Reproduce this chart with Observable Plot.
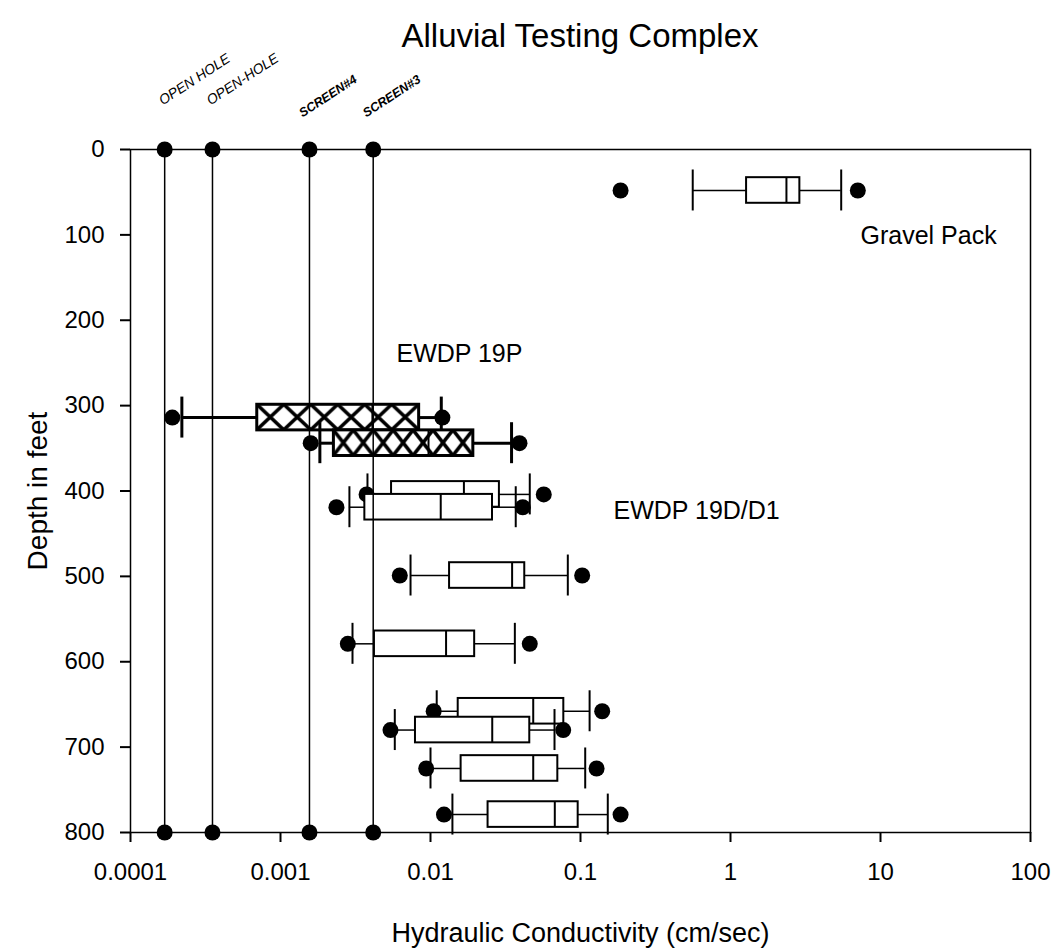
<!DOCTYPE html>
<html>
<head>
<meta charset="utf-8">
<script src="https://cdn.jsdelivr.net/npm/d3@7"></script>
<script src="https://cdn.jsdelivr.net/npm/@observablehq/plot@0.6"></script>
<style>
  html, body { margin: 0; padding: 0; background: #fff; }
  #chart { width: 1062px; font-family: "Liberation Sans", Arial, sans-serif; color: #000; }
  #chart h2 {
    margin: 0; height: 60px; box-sizing: border-box;
    padding: 19px 32px 0 130px;
    font-size: 33px; line-height: 33px; font-weight: normal; text-align: center;
  }
</style>
</head>
<body>
<div id="chart"><h2>Alluvial Testing Complex</h2></div>
<script>
// Axis ticks
const xTicks = [0.0001, 0.001, 0.01, 0.1, 1, 10, 100];
const xTickLabels = ["0.0001", "0.001", "0.01", "0.1", "1", "10", "100"];
const yTicks = [0, 100, 200, 300, 400, 500, 600, 700, 800];

// Open-hole and screen conductivities (cm/sec), drawn over the full depth range
const refNames = ["OPEN HOLE", "OPEN-HOLE", "SCREEN#4", "SCREEN#3"];
const refK = [0.000169, 0.000352, 0.00156, 0.00415];
const refDepths = [0, 800];

// Box-plot summaries per test interval (depth in feet, K in cm/sec)
const boxWell = ["Gravel Pack", "EWDP 19P", "EWDP 19P",
  "EWDP 19D/D1", "EWDP 19D/D1", "EWDP 19D/D1", "EWDP 19D/D1",
  "EWDP 19D/D1", "EWDP 19D/D1", "EWDP 19D/D1", "EWDP 19D/D1"];
const boxDepth = [48, 314, 344, 404, 419, 499, 579, 658, 680, 725, 779];
const p05 = [0.185, 0.00019, 0.00159, 0.00375, 0.00236, 0.00624, 0.00281, 0.0105, 0.00541, 0.00936, 0.0123];
const p10 = [0.56, 0.00022, 0.00183, 0.0038, 0.00288, 0.00736, 0.00302, 0.011, 0.00578, 0.01, 0.014];
const q25 = [1.28, 0.0007, 0.00227, 0.0055, 0.00365, 0.0134, 0.00423, 0.0153, 0.00794, 0.016, 0.0242];
const q50 = [2.36, 0.0041, 0.0097, 0.0167, 0.0117, 0.035, 0.0127, 0.0484, 0.0258, 0.0484, 0.0674];
const q75 = [2.9, 0.0084, 0.0193, 0.0288, 0.0259, 0.0425, 0.0197, 0.0774, 0.0459, 0.0706, 0.0965];
const p90 = [5.47, 0.0118, 0.0347, 0.0459, 0.037, 0.0823, 0.0365, 0.115, 0.0671, 0.1075, 0.152];
const p95 = [7.06, 0.012, 0.0392, 0.0569, 0.0412, 0.1026, 0.0459, 0.1395, 0.0767, 0.128, 0.185];

// Well labels placed beside their groups
const noteText = ["Gravel Pack", "EWDP 19P", "EWDP 19D/D1"];
const noteK = [7.36, 0.00593, 0.166];
const noteDepth = [101, 240, 423];

const boxes = boxDepth.map((depth, i) => ({
  well: boxWell[i], depth,
  lo: p05[i], capLo: p10[i], q1: q25[i], med: q50[i], q3: q75[i], capHi: p90[i], hi: p95[i]
}));

const boxHalf = 15;   // half box height, feet
const capHalf = 24;   // half whisker-cap height, feet
const isHatched = b => b.well === "EWDP 19P";

const boxMarks = [];
boxes.forEach((b, i) => {
  const h = isHatched(b);
  const wsw = h ? 3 : 1.5;
  boxMarks.push(
    Plot.ruleY([b], {x1: "capLo", x2: "q1", y: "depth", stroke: "black", strokeWidth: wsw}),
    Plot.ruleY([b], {x1: "q3", x2: "capHi", y: "depth", stroke: "black", strokeWidth: wsw}),
    Plot.rect([b], {
      x1: "q1", x2: "q3",
      y1: d => d.depth - boxHalf, y2: d => d.depth + boxHalf,
      fill: h ? `url(#hatch-${i})` : "white",
      stroke: "black", strokeWidth: h ? 3 : 2
    }),
    Plot.ruleX([b], {x: "med", y1: d => d.depth - boxHalf, y2: d => d.depth + boxHalf, stroke: "black", strokeWidth: 2}),
    Plot.ruleX([b], {x: "capLo", y1: d => d.depth - capHalf, y2: d => d.depth + capHalf, stroke: "black", strokeWidth: h ? 3 : 2}),
    Plot.ruleX([b], {x: "capHi", y1: d => d.depth - capHalf, y2: d => d.depth + capHalf, stroke: "black", strokeWidth: h ? 3 : 2}),
    Plot.dot([b.lo, b.hi], {x: d => d, y: () => b.depth, r: 8, fill: "black", stroke: null})
  );
});

const refPoints = refK.flatMap(k => refDepths.map(depth => ({k, depth})));

const plot = Plot.plot({
  width: 1062,
  height: 892,
  marginLeft: 130,
  marginRight: 32,
  marginTop: 89,
  marginBottom: 120,
  style: {fontFamily: "'Liberation Sans', Arial, sans-serif", fontSize: "24px", color: "black", background: "white", overflow: "visible"},
  x: {type: "log", domain: [1e-4, 100], label: null},
  y: {domain: [0, 800], reverse: true, label: null},
  marks: [
    Plot.frame({stroke: "black", strokeWidth: 1.5}),
    Plot.axisX(xTicks, {
      tickSize: 10, tickPadding: 20, strokeWidth: 2, fontSize: 24, label: null,
      tickFormat: d => xTickLabels[xTicks.indexOf(d)]
    }),
    Plot.axisY(yTicks, {tickSize: 10, tickPadding: 16, strokeWidth: 2, fontSize: 24, label: null}),
    ...boxMarks,
    Plot.ruleX(refK, {x: d => d, y1: refDepths[0], y2: refDepths[1], stroke: "black", strokeWidth: 1.5}),
    Plot.dot(refPoints, {x: "k", y: "depth", r: 8, fill: "black", stroke: null}),
    Plot.text(refK.slice(0, 2), {
      x: d => d, text: (d, i) => refNames[i],
      frameAnchor: "top", dy: -44, dx: -2, rotate: -33,
      textAnchor: "start", lineAnchor: "bottom",
      fontSize: 14, fontStyle: "italic"
    }),
    Plot.text(refK.slice(2), {
      x: d => d, text: (d, i) => refNames[i + 2],
      frameAnchor: "top", dy: -32, dx: -7, rotate: -33,
      textAnchor: "start", lineAnchor: "bottom",
      fontSize: 12.5, fontStyle: "italic", fontWeight: "bold"
    }),
    Plot.text(noteText, {
      x: (d, i) => noteK[i], y: (d, i) => noteDepth[i], text: d => d,
      textAnchor: "start", fontSize: 25
    }),
    Plot.text(["Depth in feet"], {
      frameAnchor: "left", rotate: -90, dx: -92,
      textAnchor: "middle", lineAnchor: "middle", fontSize: 28
    }),
    Plot.text(["Hydraulic Conductivity (cm/sec)"], {
      frameAnchor: "bottom", dy: 101,
      textAnchor: "middle", lineAnchor: "middle", fontSize: 27
    })
  ]
});

// Cross-hatch fill for the EWDP 19P boxes, one tile set per box so the diamonds line up with its edges
const xs = plot.scale("x"), ys = plot.scale("y");
const defs = d3.select(plot).insert("defs", ":first-child");
boxes.forEach((b, i) => {
  if (!isHatched(b)) return;
  const left = xs.apply(b.q1), right = xs.apply(b.q3);
  const top = ys.apply(b.depth - boxHalf), bottom = ys.apply(b.depth + boxHalf);
  const cells = i === 1 ? 6 : 7;
  const w = (right - left) / cells, h = bottom - top;
  const p = defs.append("pattern")
    .attr("id", `hatch-${i}`)
    .attr("patternUnits", "userSpaceOnUse")
    .attr("x", left).attr("y", top)
    .attr("width", w).attr("height", h);
  p.append("rect").attr("width", w).attr("height", h).attr("fill", "white");
  p.append("path")
    .attr("d", `M${-w},${-h}L${2 * w},${2 * h}M${2 * w},${-h}L${-w},${2 * h}`)
    .attr("stroke", "black").attr("stroke-width", 3.5).attr("fill", "none");
});

document.getElementById("chart").appendChild(plot);
</script>
</body>
</html>
